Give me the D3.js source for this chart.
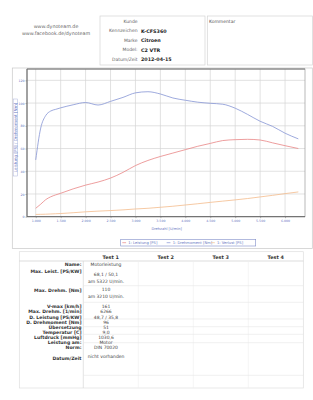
<!DOCTYPE html>
<html>
<head>
<meta charset="utf-8">
<script src="https://cdn.jsdelivr.net/npm/d3@7"></script>
<style>
body { margin: 0; background: #fff; }
svg { display: block; }
text { font-family: "DejaVu Sans", Verdana, sans-serif; }
</style>
</head>
<body>
<div id="chart"></div>
<script>
// engine speed (U/min) and the three measured series
const rpm        = [1000, 1100, 1200, 1300, 1400, 1500, 1750, 2000, 2250, 2500, 2750, 3000, 3250, 3500, 3750, 4000, 4250, 4500, 4750, 5000, 5250, 5500, 5750, 6000, 6266];
const drehmoment = [50, 78, 89, 93, 94.5, 95.8, 98.5, 100.5, 98.3, 101.5, 105, 109, 110, 108, 104.5, 102.5, 100.8, 99.8, 99, 95.5, 90, 84, 79.5, 73.5, 68.5];
const leistung   = [7.4, 11, 15, 17.5, 19.2, 20.6, 24.5, 27.8, 30.5, 34, 39, 45, 49.5, 53, 56, 59, 62, 64.5, 67, 67.8, 68.1, 67.5, 65, 62.5, 60];
const verlust    = [2, 2.1, 2.2, 2.4, 2.6, 2.8, 3.5, 4.3, 4.9, 5.4, 6, 6.8, 7.4, 8.3, 9.2, 10.3, 11.4, 12.6, 13.7, 14.8, 16, 17.4, 18.8, 20.3, 21.8];

const xTicks = [1000, 1500, 2000, 2500, 3000, 3500, 4000, 4500, 5000, 5500, 6000];
const yTicks = [0, 20, 40, 60, 80, 100, 120];
const legendLabels = ["1: Leistung [PS]", "1: Drehmoment [Nm]", "1: Verlust [PS]"];

const siteLines = ["www.dynoteam.de", "www.facebook.de/dynoteam"];
const infoLabels = ["Kunde", "Kennzeichen", "Marke", "Model:", "Datum/Zeit"];
const infoValues = ["", "K-CFS360", "Citroen", "C2 VTR", "2012-04-15"];

const testNames = ["Test 1", "Test 2", "Test 3", "Test 4"];
const rowLabels = ["Name:", "Max. Leist. [PS/KW]", "Max. Drehm. [Nm]", "V-max [km/h]", "Max. Drehm. [1/min]",
  "D. Leistung [PS/KW]", "D. Drehmoment [Nm]", "Übersetzung", "Temperatur [C]", "Luftdruck [mmHg]",
  "Leistung am:", "Norm:", "Datum/Zeit"];
const rowValues = [["Motorleistung"], ["68,1 / 50,1", "am 5322 U/min."], ["110", "am 3210 U/min."], ["161"], ["6266"],
  ["48,7 / 35,8"], ["96"], ["51"], ["9,0"], ["1030,6"], ["Motor"], ["DIN 70020"], ["nicht vorhanden"]];

const W = 313, H = 400;
const svg = d3.select("#chart").append("svg")
    .attr("width", W)
    .attr("height", H);
svg.append("rect").attr("width", W).attr("height", H).attr("fill", "#fff");

// ---------- header ----------
svg.selectAll(".site")
    .data(siteLines)
    .enter()
    .append("text")
    .attr("x", 56)
    .attr("y", (d, i) => 27.7 + i * 7.3)
    .attr("text-anchor", "middle")
    .style("font-size", "4.8px")
    .attr("fill", "#666")
    .text(d => d);

svg.append("rect").attr("x", 100).attr("y", 16).attr("width", 105).attr("height", 49)
    .attr("fill", "none").attr("stroke", "#d4d4d4").attr("stroke-width", 0.7);
svg.append("rect").attr("x", 207.3).attr("y", 16).attr("width", 105.2).attr("height", 49)
    .attr("fill", "none").attr("stroke", "#d4d4d4").attr("stroke-width", 0.7);
svg.append("text").attr("x", 209).attr("y", 22.6)
    .style("font-size", "4.5px").attr("fill", "#555").text("Kommentar");

const infoY = [21, 30.7, 40.2, 49.8, 59];
svg.selectAll(".infolabel")
    .data(infoLabels)
    .enter()
    .append("text")
    .attr("x", 137.6)
    .attr("y", (d, i) => infoY[i] + 1.6)
    .attr("text-anchor", "end")
    .style("font-size", "4.5px")
    .attr("fill", "#666")
    .text(d => d);
svg.selectAll(".infovalue")
    .data(infoValues)
    .enter()
    .append("text")
    .attr("x", 141)
    .attr("y", (d, i) => infoY[i] + 1.8)
    .style("font-size", "4.8px")
    .style("font-weight", "bold")
    .attr("fill", "#222")
    .text(d => d);

// ---------- chart ----------
const plot = {left: 27, right: 305, top: 69, bottom: 216.7};
const x = d3.scaleLinear().domain([825, 6400]).range([plot.left, plot.right]);
const y = d3.scaleLinear().domain([0, 130]).range([plot.bottom, plot.top]);
const de = d3.formatLocale({decimal: ",", thousands: ".", grouping: [3], currency: ["", " €"]});
const fmt = de.format(",d");
const axisBlue = "#6676c2";

// outer box around the chart block
svg.append("rect").attr("x", 12.3).attr("y", 68).attr("width", 300).attr("height", 180.5)
    .attr("fill", "none").attr("stroke", "#c8c8c8").attr("stroke-width", 0.7);

// grid
svg.append("g")
    .selectAll("line")
    .data(xTicks)
    .enter()
    .append("line")
    .attr("x1", d => x(d)).attr("x2", d => x(d))
    .attr("y1", plot.top).attr("y2", plot.bottom)
    .attr("stroke", "#d6d6d6").attr("stroke-width", 0.7);
svg.append("g")
    .selectAll("line")
    .data(yTicks)
    .enter()
    .append("line")
    .attr("x1", plot.left).attr("x2", plot.right)
    .attr("y1", d => y(d)).attr("y2", d => y(d))
    .attr("stroke", "#d6d6d6").attr("stroke-width", 0.7);

// axes
const xAxis = svg.append("g")
    .attr("transform", "translate(0," + plot.bottom + ")")
    .call(d3.axisBottom(x).tickValues(xTicks).tickFormat(fmt).tickSize(1.5).tickPadding(1.5));
const yAxis = svg.append("g")
    .attr("transform", "translate(" + plot.left + ",0)")
    .call(d3.axisLeft(y).tickValues(yTicks).tickSize(1.5).tickPadding(1));
[xAxis, yAxis].forEach(a => {
    a.select(".domain").remove();
    a.selectAll("line").attr("stroke", "#888").attr("stroke-width", 0.6);
    a.selectAll("text")
        .style("font-family", "'DejaVu Sans', sans-serif")
        .style("font-size", "3.2px")
        .attr("fill", axisBlue);
});

// frame
svg.append("rect").attr("x", plot.left).attr("y", plot.top)
    .attr("width", plot.right - plot.left).attr("height", plot.bottom - plot.top)
    .attr("fill", "none").attr("stroke", "#9a9a9a").attr("stroke-width", 0.7);
svg.append("path")
    .attr("d", "M" + plot.left + "," + plot.top + "V" + plot.bottom + "H" + plot.right)
    .attr("fill", "none").attr("stroke", "#666").attr("stroke-width", 1);
svg.append("line")
    .attr("x1", plot.left).attr("x2", plot.right).attr("y1", plot.top).attr("y2", plot.top)
    .attr("stroke", "#777").attr("stroke-width", 1);

// curves
const series = [
    {values: leistung, color: "#e88585"},
    {values: drehmoment, color: "#8594d4"},
    {values: verlust, color: "#f4bb8c"}
];
const line = d3.line()
    .x((d, i) => x(rpm[i]))
    .y(d => y(d))
    .curve(d3.curveMonotoneX);
svg.append("g")
    .selectAll("path")
    .data(series)
    .enter()
    .append("path")
    .attr("d", d => line(d.values))
    .attr("fill", "none")
    .attr("stroke", d => d.color)
    .attr("stroke-width", 0.8);

// axis titles
svg.append("rect").attr("x", 13.2).attr("y", 99).attr("width", 4.4).attr("height", 77)
    .attr("fill", "none").attr("stroke", "#aab2da").attr("stroke-width", 0.5);
svg.append("text")
    .attr("transform", "translate(16.8,137.5) rotate(-90)")
    .attr("text-anchor", "middle")
    .style("font-size", "4.1px")
    .attr("fill", axisBlue)
    .text("Leistung [PS] / Drehmoment [Nm]");
svg.append("text")
    .attr("x", 166.7).attr("y", 229.5)
    .attr("text-anchor", "middle")
    .style("font-size", "3.6px")
    .attr("fill", axisBlue)
    .text("Drehzahl [U/min]");

// legend
svg.append("rect").attr("x", 120.7).attr("y", 239.3).attr("width", 135).attr("height", 6.7)
    .attr("fill", "#fff").attr("stroke", "#7f8cc8").attr("stroke-width", 0.6);
const legend = svg.append("g").selectAll("g")
    .data(series)
    .enter()
    .append("g")
    .attr("transform", (d, i) => "translate(" + (122.3 + i * 44.35) + ",242.7)");
legend.append("line")
    .attr("x1", 0).attr("x2", 3.8)
    .attr("stroke", d => d.color).attr("stroke-width", 0.7);
legend.append("text")
    .attr("x", 6)
    .attr("y", 1.3)
    .style("font-size", "3.7px")
    .attr("fill", axisBlue)
    .text((d, i) => legendLabels[i]);

// ---------- results table ----------
const tbl = {left: 19.3, right: 303.3, top: 251.7, head: 261, bottom: 388, split: 83.3, colW: 55};
svg.append("rect").attr("x", tbl.left).attr("y", tbl.top)
    .attr("width", tbl.right - tbl.left).attr("height", tbl.bottom - tbl.top)
    .attr("fill", "none").attr("stroke", "#dedede").attr("stroke-width", 0.7);
svg.append("line").attr("x1", tbl.left).attr("x2", tbl.right).attr("y1", tbl.head).attr("y2", tbl.head)
    .attr("stroke", "#cfcfcf").attr("stroke-width", 0.7);
svg.append("line").attr("x1", tbl.split).attr("x2", tbl.split).attr("y1", tbl.head).attr("y2", tbl.bottom)
    .attr("stroke", "#d8d8d8").attr("stroke-width", 0.7);
svg.append("g")
    .selectAll("line")
    .data([1, 2, 3])
    .enter()
    .append("line")
    .attr("x1", d => tbl.split + d * tbl.colW).attr("x2", d => tbl.split + d * tbl.colW)
    .attr("y1", tbl.head).attr("y2", tbl.bottom)
    .attr("stroke", "#eeeeee").attr("stroke-width", 0.6);
svg.append("g")
    .selectAll("line")
    .data([285.7, 302.3, 319, 326.7, 334.3, 342.7, 375.3])
    .enter()
    .append("line")
    .attr("x1", tbl.split).attr("x2", tbl.right)
    .attr("y1", d => d).attr("y2", d => d)
    .attr("stroke", "#e6e6e6").attr("stroke-width", 0.6);

svg.selectAll(".testname")
    .data(testNames)
    .enter()
    .append("text")
    .attr("x", (d, i) => tbl.split + tbl.colW * (i + 0.5))
    .attr("y", 258.7)
    .attr("text-anchor", "middle")
    .style("font-size", "4.9px")
    .style("font-weight", "bold")
    .attr("fill", "#333")
    .text(d => d);

const rowY = [264, 271.7, 290.7, 306.7, 311.7, 317, 322, 327.3, 332.7, 337.7, 342.7, 347.7, 358];
const valY = [264, 274, 289.3, 306.7, 311.7, 317, 322, 327.3, 332.7, 337.7, 342.7, 347.7, 356];
svg.selectAll(".rowlabel")
    .data(rowLabels)
    .enter()
    .append("text")
    .attr("x", 81.5)
    .attr("y", (d, i) => rowY[i] + 1.6)
    .attr("text-anchor", "end")
    .style("font-size", "4.6px")
    .style("font-weight", "bold")
    .attr("fill", "#333")
    .text(d => d);
const cells = svg.selectAll(".rowvalue")
    .data(rowValues)
    .enter()
    .append("text")
    .attr("text-anchor", "middle")
    .style("font-size", "4.5px")
    .attr("fill", "#444");
cells.selectAll("tspan")
    .data((d, i) => d.map((t, j) => ({t: t, y: valY[i] + 1.5 + j * 7})))
    .enter()
    .append("tspan")
    .attr("x", 106)
    .attr("y", d => d.y)
    .text(d => d.t);
</script>
</body>
</html>
